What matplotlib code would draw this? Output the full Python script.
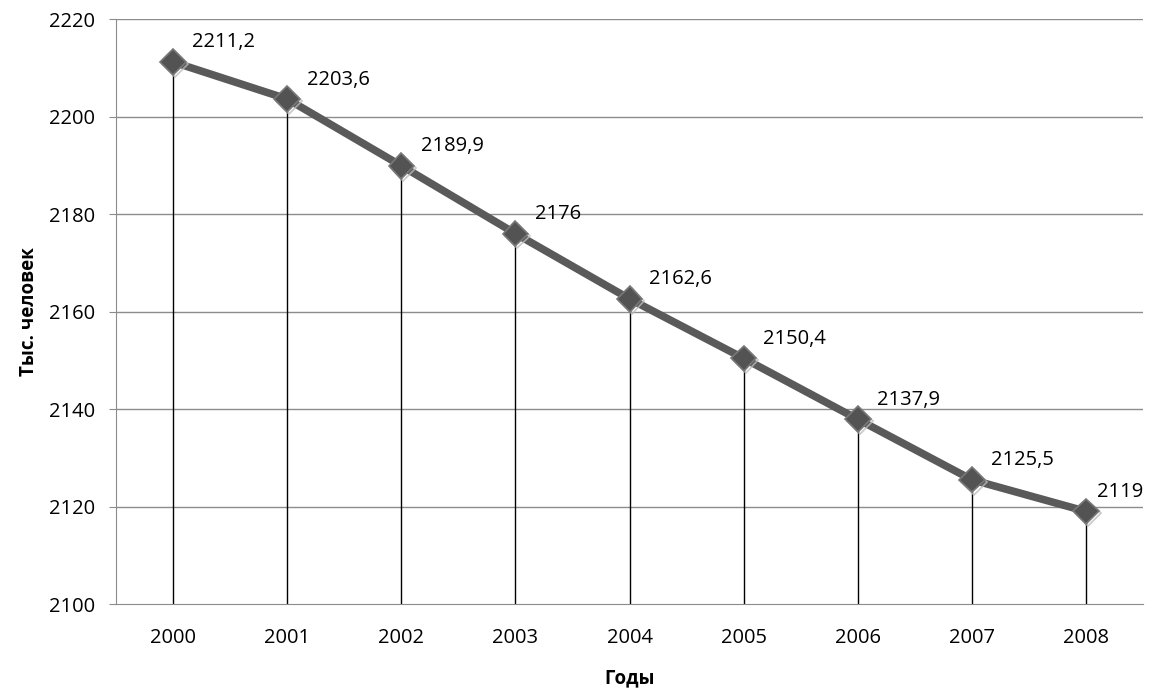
import numpy as np
import matplotlib.pyplot as plt
import matplotlib.patheffects as pe

years = ["2000", "2001", "2002", "2003", "2004", "2005", "2006", "2007", "2008"]
values = [2211.2, 2203.6, 2189.9, 2176, 2162.6, 2150.4, 2137.9, 2125.5, 2119]
labels = ["2211,2", "2203,6", "2189,9", "2176", "2162,6", "2150,4", "2137,9", "2125,5", "2119"]
yticks = [2100, 2120, 2140, 2160, 2180, 2200, 2220]

plt.rcParams['font.family'] = ['Open Sans', 'DejaVu Sans']

fig = plt.figure(figsize=(11.54, 6.97), dpi=100)
ax = fig.add_axes([0.1005, 0.1334, 0.89, 0.8393])

x = np.arange(len(years))

ax.set_ylim(2100, 2220)
ax.set_xlim(-0.5, len(years) - 0.5)
ax.set_yticks(yticks)
ax.set_xticks(x)
ax.set_xticklabels(years)

# горизонтальная сетка
for v in yticks[1:]:
    ax.axhline(v, color="#8c8c8c", lw=1, zorder=1)

# линии проекции
ax.vlines(x, 2100, values, colors="black", lw=1, zorder=2)

ax.plot(x, values, color="#5a5a5a", lw=5.5, zorder=3, solid_capstyle="round")
ax.plot(x, values, ls="none", marker="D", ms=13, mfc="#535353", mec="#787878",
        mew=1.2, zorder=4,
        path_effects=[pe.SimpleLineShadow(offset=(1.5, -1.5), shadow_color="#bbbbbb", alpha=0.8),
                      pe.Normal()])

for i, (v, t) in enumerate(zip(values, labels)):
    dx = 14 if i < len(values) - 1 else 8
    ax.annotate(t, (x[i], v), xytext=(dx, 14), textcoords="offset points",
                ha="left", va="center", fontsize=14.5, zorder=5)

for s in ["top", "right"]:
    ax.spines[s].set_visible(False)
ax.spines["left"].set_color("#8c8c8c")
ax.spines["bottom"].set_color("#8c8c8c")
ax.tick_params(axis="y", length=5, color="#8c8c8c", labelsize=14.5, pad=10)
ax.tick_params(axis="x", length=0, labelsize=14.5, pad=17)

ax.set_ylabel("Тыс. человек", fontsize=13.5, fontweight="bold", labelpad=7)
ax.set_xlabel("Годы", fontsize=13.5, fontweight="bold", labelpad=15)

fig.savefig("out.png", dpi=100)
